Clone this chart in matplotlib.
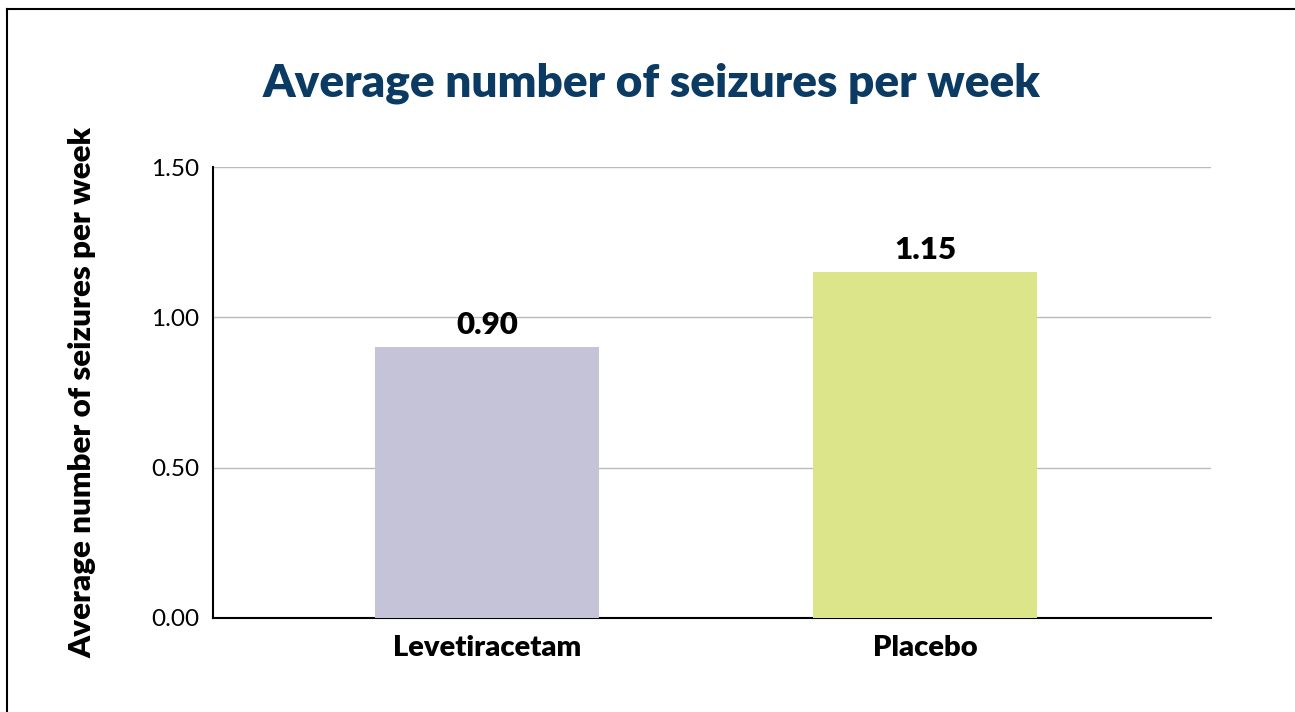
import matplotlib
matplotlib.use("Agg")
import matplotlib.pyplot as plt
from matplotlib.lines import Line2D

categories = ["Levetiracetam", "Placebo"]
values = [0.90, 1.15]
value_labels = ["0.90", "1.15"]
yticks = [0.0, 0.5, 1.0, 1.5]
ytick_labels = ["0.00", "0.50", "1.00", "1.50"]
colors = ["#C5C3D8", "#DCE589"]

plt.rcParams["font.family"] = ["Lato", "DejaVu Sans"]

W, H = 1295, 712
fig = plt.figure(figsize=(W / 100, H / 100), dpi=100)
ax = fig.add_axes([213 / W, 1 - 618 / H, (1211 - 213) / W, (618 - 167) / H])

x = list(range(len(categories)))
ax.bar(x, values, width=0.511, color=colors, zorder=3)
ax.set_xlim(-0.626, 1.653)
ax.set_ylim(0, 1.5)
ax.set_yticks(yticks)
ax.set_yticklabels(ytick_labels, fontsize=17.5)
ax.set_xticks(x)
ax.set_xticklabels(categories, fontsize=21, fontweight="heavy")
ax.tick_params(axis="x", length=0, pad=12)
ax.tick_params(axis="y", length=0, pad=10)
ax.yaxis.grid(True, color="#BBBBBB", lw=1, zorder=0)
for s in ["top", "right"]:
    ax.spines[s].set_visible(False)
ax.spines["left"].set_linewidth(1.5)
ax.spines["bottom"].set_linewidth(1.5)

for xi, v, lab in zip(x, values, value_labels):
    ax.annotate(lab, (xi, v), xytext=(0, 6), textcoords="offset points",
                ha="center", va="bottom", fontsize=22.5, fontweight="heavy")

ax.set_ylabel("Average number of seizures per week", fontsize=22.5, fontweight="heavy")
ax.yaxis.set_label_coords(-0.117, 0.5)

fig.text(652 / W, 1 - 83 / H, "Average number of seizures per week", ha="center", va="center",
         fontsize=33, fontweight="heavy", color="#0B3A63")

# outer frame
fig.add_artist(Line2D([7 / W, 7 / W], [0, 1 - 9 / H], transform=fig.transFigure, color="black", lw=1.5))
fig.add_artist(Line2D([7 / W, 1], [1 - 9 / H, 1 - 9 / H], transform=fig.transFigure, color="black", lw=1.5))

fig.savefig("out.png", dpi=100)
